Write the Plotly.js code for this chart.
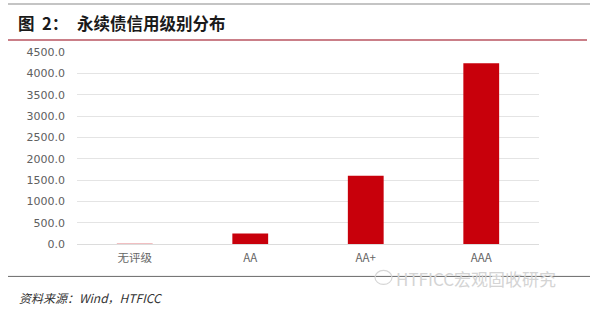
<!DOCTYPE html>
<html>
<head>
<meta charset="utf-8">
<script src="https://cdn.plot.ly/plotly-3.0.1.min.js"></script>
<style>
html,body{margin:0;padding:0;background:#fff;}
#chart{width:600px;height:312px;}
</style>
</head>
<body>
<div id="chart"></div>
<script>
// Data
const categories = ['无评级', 'AA', 'AA+', 'AAA'];
const values = [8, 245, 1600, 4235];
const yTicks = [0, 500, 1000, 1500, 2000, 2500, 3000, 3500, 4000, 4500];

const cjk = '"Noto Sans CJK SC", "Noto Sans", sans-serif';
const axisFont = 'Verdana, "DejaVu Sans", "Noto Sans CJK SC", sans-serif';

const trace = {
  type: 'bar',
  x: categories,
  y: values,
  marker: {color: '#c8000b', line: {width: 0}},
  hoverinfo: 'none'
};

// plot area: x 77..539 px, y 52..244.5 px
const L = 77, R = 539, T = 52, B = 244.5;
const px = v => (v - L) / (R - L);
const py = v => (B - v) / (B - T);

const layout = {
  width: 600,
  height: 312,
  margin: {l: L, r: 600 - R, t: T, b: 312 - B},
  paper_bgcolor: '#ffffff',
  plot_bgcolor: '#ffffff',
  showlegend: false,
  bargap: 0.69,
  xaxis: {
    type: 'category',
    showgrid: false,
    showline: false,
    zeroline: false,
    ticks: '',
    tickfont: {family: cjk, size: 11.5, color: '#666666'},
    ticklabelstandoff: 5
  },
  yaxis: {
    range: [0, 4500],
    tickvals: yTicks,
    tickformat: '.1f',
    showgrid: true,
    gridcolor: '#e4e4e4',
    gridwidth: 1,
    zeroline: true,
    zerolinecolor: '#dcdcdc',
    zerolinewidth: 1,
    showline: false,
    ticks: '',
    tickfont: {family: axisFont, size: 11, color: '#606060'},
    ticklabelstandoff: 11
  },
  shapes: [
    {type: 'line', xref: 'paper', yref: 'paper', x0: px(8), x1: px(590), y0: py(4), y1: py(4),
     line: {color: '#c4c4c4', width: 2}},
    {type: 'line', xref: 'paper', yref: 'paper', x0: px(8), x1: px(587), y0: py(40), y1: py(40),
     line: {color: '#b85560', width: 1.5}},
    {type: 'line', xref: 'paper', yref: 'paper', x0: px(8), x1: px(590), y0: py(277), y1: py(277),
     line: {color: '#6a6a6a', width: 1}},
    {type: 'circle', xref: 'paper', yref: 'paper', x0: px(375), x1: px(392), y0: py(285), y1: py(271),
     line: {color: '#d6d6d6', width: 1.2}, fillcolor: 'rgba(0,0,0,0)'}
  ],
  annotations: [
    {xref: 'paper', yref: 'paper', x: px(16), y: py(23), xanchor: 'left', yanchor: 'middle',
     text: '<b>图&nbsp;&nbsp;2：</b>', showarrow: false, font: {family: cjk, size: 16.5, color: '#1a1a1a'}},
    {xref: 'paper', yref: 'paper', x: px(75), y: py(23), xanchor: 'left', yanchor: 'middle',
     text: '<b>永续债信用级别分布</b>', showarrow: false, font: {family: cjk, size: 16.5, color: '#1a1a1a'}},
    {xref: 'paper', yref: 'paper', x: px(17), y: py(298), xanchor: 'left', yanchor: 'middle',
     text: '<i>资料来源：Wind，HTFICC</i>', showarrow: false, font: {family: cjk, size: 12, color: '#333333'}},
    {xref: 'paper', yref: 'paper', x: px(394), y: py(279), xanchor: 'left', yanchor: 'middle',
     text: 'HTFICC宏观固收研究', showarrow: false, font: {family: cjk, size: 17, color: '#d4d4d4'}}
  ]
};

Plotly.newPlot('chart', [trace], layout, {staticPlot: true, displayModeBar: false});
</script>
</body>
</html>
